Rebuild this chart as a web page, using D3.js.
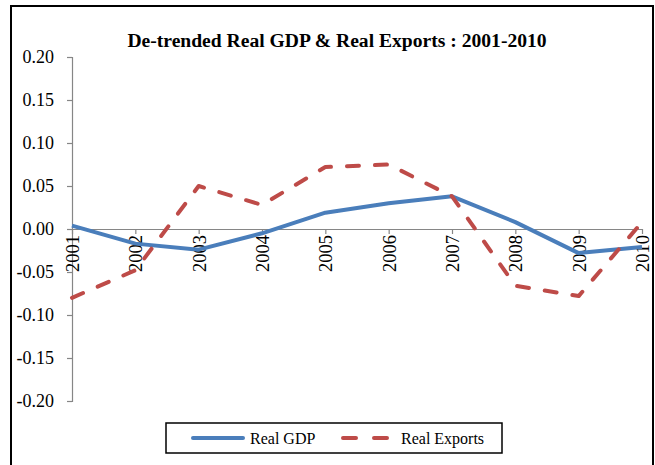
<!DOCTYPE html>
<html>
<head>
<meta charset="utf-8">
<script src="https://cdn.jsdelivr.net/npm/d3@7"></script>
<style>
  html, body { margin: 0; padding: 0; background: #fff; }
  svg { display: block; }
</style>
</head>
<body>
<script>
const years = ["2001","2002","2003","2004","2005","2006","2007","2008","2009","2010"];
const realGDP = [0.004, -0.017, -0.024, -0.005, 0.019, 0.030, 0.038, 0.008, -0.028, -0.021];
const realExports = [-0.080, -0.048, 0.050, 0.028, 0.072, 0.075, 0.038, -0.066, -0.078, 0.008];
const yTicks = [0.20, 0.15, 0.10, 0.05, 0.00, -0.05, -0.10, -0.15, -0.20];
const title = "De-trended Real GDP & Real Exports : 2001-2010";
const seriesNames = ["Real GDP", "Real Exports"];
const colors = ["#4a7ebb", "#be4b48"];

const W = 655, H = 465;
const font = "Liberation Serif";
const svg = d3.select("body").append("svg").attr("width", W).attr("height", H);

// outer frame
svg.append("rect").attr("x", 11).attr("y", 6).attr("width", 642).attr("height", 470)
  .attr("fill", "#fff").attr("stroke", "#000").attr("stroke-width", 2);

svg.append("text").attr("x", 337).attr("y", 47).attr("text-anchor", "middle")
  .attr("font-family", font).attr("font-weight", "bold").attr("font-size", 19.6)
  .attr("fill", "#000").text(title);

const x = d3.scalePoint().domain(years).range([72, 642]);
const y = d3.scaleLinear().domain([-0.20, 0.20]).range([401, 57]);

// y axis
const yAxis = svg.append("g").attr("transform", "translate(72,0)")
  .call(d3.axisLeft(y).tickValues(yTicks).tickFormat(d3.format(".2f")).tickSize(5).tickPadding(13));
yAxis.attr("font-family", font);
yAxis.select(".domain").attr("stroke", "#868686").attr("stroke-width", 1.2);
yAxis.selectAll(".tick line").attr("stroke", "#868686").attr("stroke-width", 1.2);
yAxis.selectAll(".tick text").attr("font-family", font).attr("font-size", 18).attr("fill", "#000")
  .text(d => d3.format(".2f")(d).replace("−", "-"));

// x axis at zero
const xAxis = svg.append("g").attr("transform", `translate(0,${y(0)})`)
  .call(d3.axisBottom(x).tickSize(5).tickSizeOuter(0));
xAxis.attr("font-family", font);
xAxis.select(".domain").attr("stroke", "#868686").attr("stroke-width", 1.2);
xAxis.selectAll(".tick line").attr("stroke", "#868686").attr("stroke-width", 1.2);
xAxis.selectAll(".tick text")
  .attr("font-family", font).attr("font-size", 18.5).attr("fill", "#000")
  .attr("transform", "rotate(-90)")
  .attr("text-anchor", "end")
  .attr("x", -6).attr("y", 0).attr("dy", "0.35em");

const line = d3.line().x((d, i) => x(years[i])).y(d => y(d));

svg.append("path").datum(realGDP).attr("d", line)
  .attr("fill", "none").attr("stroke", colors[0]).attr("stroke-width", 4)
  .attr("stroke-linejoin", "round");

svg.append("path").datum(realExports).attr("d", line)
  .attr("fill", "none").attr("stroke", colors[1]).attr("stroke-width", 4)
  .attr("stroke-linecap", "round").attr("stroke-linejoin", "round")
  .attr("stroke-dasharray", "12,16");

// legend
const lg = svg.append("g");
lg.append("rect").attr("x", 166).attr("y", 423).attr("width", 336).attr("height", 30)
  .attr("fill", "#fff").attr("stroke", "#000").attr("stroke-width", 1.5);
lg.append("line").attr("x1", 193).attr("x2", 243).attr("y1", 438).attr("y2", 438)
  .attr("stroke", colors[0]).attr("stroke-width", 4).attr("stroke-linecap", "round");
lg.append("text").attr("x", 250).attr("y", 444).attr("font-family", font).attr("font-size", 16)
  .attr("fill", "#000").text(seriesNames[0]);
lg.append("line").attr("x1", 343).attr("x2", 387).attr("y1", 438).attr("y2", 438)
  .attr("stroke", colors[1]).attr("stroke-width", 4).attr("stroke-linecap", "round")
  .attr("stroke-dasharray", "13,18");
lg.append("text").attr("x", 401).attr("y", 444).attr("font-family", font).attr("font-size", 16)
  .attr("fill", "#000").text(seriesNames[1]);
</script>
</body>
</html>
